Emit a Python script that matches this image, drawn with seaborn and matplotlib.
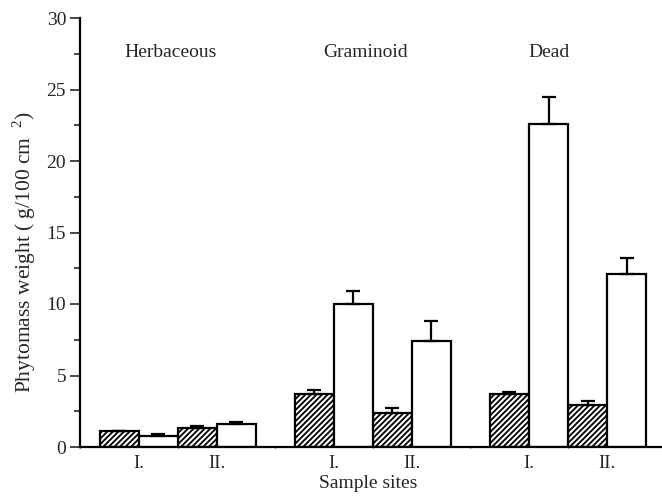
import numpy as np
import pandas as pd
import matplotlib
matplotlib.use("Agg")
import matplotlib.pyplot as plt
import seaborn as sns
from matplotlib.ticker import FixedLocator, MultipleLocator

# ---- data ----
groups = ["Herbaceous", "Graminoid", "Dead"]
sites = ["I.", "II."]
treatments = ["hatched", "open"]
hatched_vals = [1.12, 1.30, 3.70, 2.40, 3.72, 2.93]
hatched_err = [0.0, 0.16, 0.32, 0.33, 0.15, 0.26]
open_vals = [0.80, 1.62, 9.98, 7.41, 22.57, 12.10]
open_err = [0.12, 0.14, 0.95, 1.42, 1.92, 1.10]
y_ticks = [0, 5, 10, 15, 20, 25, 30]

sns.set_theme(style="ticks")
plt.rcParams["font.family"] = ["Liberation Serif", "DejaVu Serif"]
plt.rcParams["mathtext.fontset"] = "custom"
plt.rcParams["mathtext.rm"] = "Liberation Serif"
plt.rcParams["hatch.linewidth"] = 1.3
plt.rcParams["hatch.color"] = "black"

rows = []
pos = []
for gi, g in enumerate(groups):
    for si, s in enumerate(sites):
        k = gi * 2 + si
        x = gi * 2.5 + si
        pos.append(x)
        rows.append(dict(x=x, group=g, site=s, treatment=treatments[0],
                         value=hatched_vals[k], err=hatched_err[k]))
        rows.append(dict(x=x, group=g, site=s, treatment=treatments[1],
                         value=open_vals[k], err=open_err[k]))
df = pd.DataFrame(rows)

fig = plt.figure(figsize=(6.62, 4.97), dpi=100)
ax = fig.add_axes([80 / 662, 1 - 447 / 497, 1 - 80 / 662, (447 - 18) / 497])

sns.barplot(data=df, x="x", y="value", hue="treatment", hue_order=treatments,
            native_scale=True, width=1.0, palette=["white", "white"],
            edgecolor="black", linewidth=1.6, errorbar=None, legend=False,
            ax=ax)

for cont, tr in zip(ax.containers, treatments):
    sub = df[df.treatment == tr].sort_values("x")
    xs, hs = [], []
    for patch in cont.patches:
        if tr == "hatched":
            patch.set_hatch("//////")
        xs.append(patch.get_x() + patch.get_width() / 2)
        hs.append(patch.get_height())
    errs = sub["err"].to_numpy()
    ax.errorbar(xs, hs, yerr=[np.zeros_like(errs), errs], fmt="none",
                ecolor="black", elinewidth=1.6, capsize=5, capthick=1.6,
                zorder=1)

ax.set_xlim(-0.756, 6.705)
ax.set_ylim(0, 30)
ax.set_yticks(y_ticks)
ax.yaxis.set_minor_locator(MultipleLocator(2.5))
ax.set_xticks(pos)
ax.set_xticklabels(sites * len(groups))
ax.xaxis.set_minor_locator(FixedLocator([-0.75 + 1.25 * k for k in range(7)]))

ax.tick_params(axis="y", which="major", length=7, width=1.2, direction="out",
               labelsize=14, pad=3)
ax.tick_params(axis="y", which="minor", length=4, width=1.2, direction="out")
ax.tick_params(axis="x", which="major", length=0, labelsize=13.5, pad=6)
ax.tick_params(axis="x", which="minor", length=2, width=1.0, direction="inout")

for sp in ["top", "right"]:
    ax.spines[sp].set_visible(False)
for sp in ["left", "bottom"]:
    ax.spines[sp].set_linewidth(1.6)
    ax.spines[sp].set_color("black")

ax.set_xlabel("Sample sites", fontsize=14, va="center")
ax.xaxis.set_label_coords(0.495, -0.085)
ax.set_ylabel("Phytomass weight ( g/100 cm$^{\\ \\ 2}$)", fontsize=15.5)
ax.yaxis.set_label_coords(-0.072, 0.455)

label_x = [0.40, 2.91, 5.26]
for g, lx in zip(groups, label_x):
    ax.text(lx, 27.6, g, ha="center", va="center", fontsize=14)

fig.savefig("out.png", dpi=100)
